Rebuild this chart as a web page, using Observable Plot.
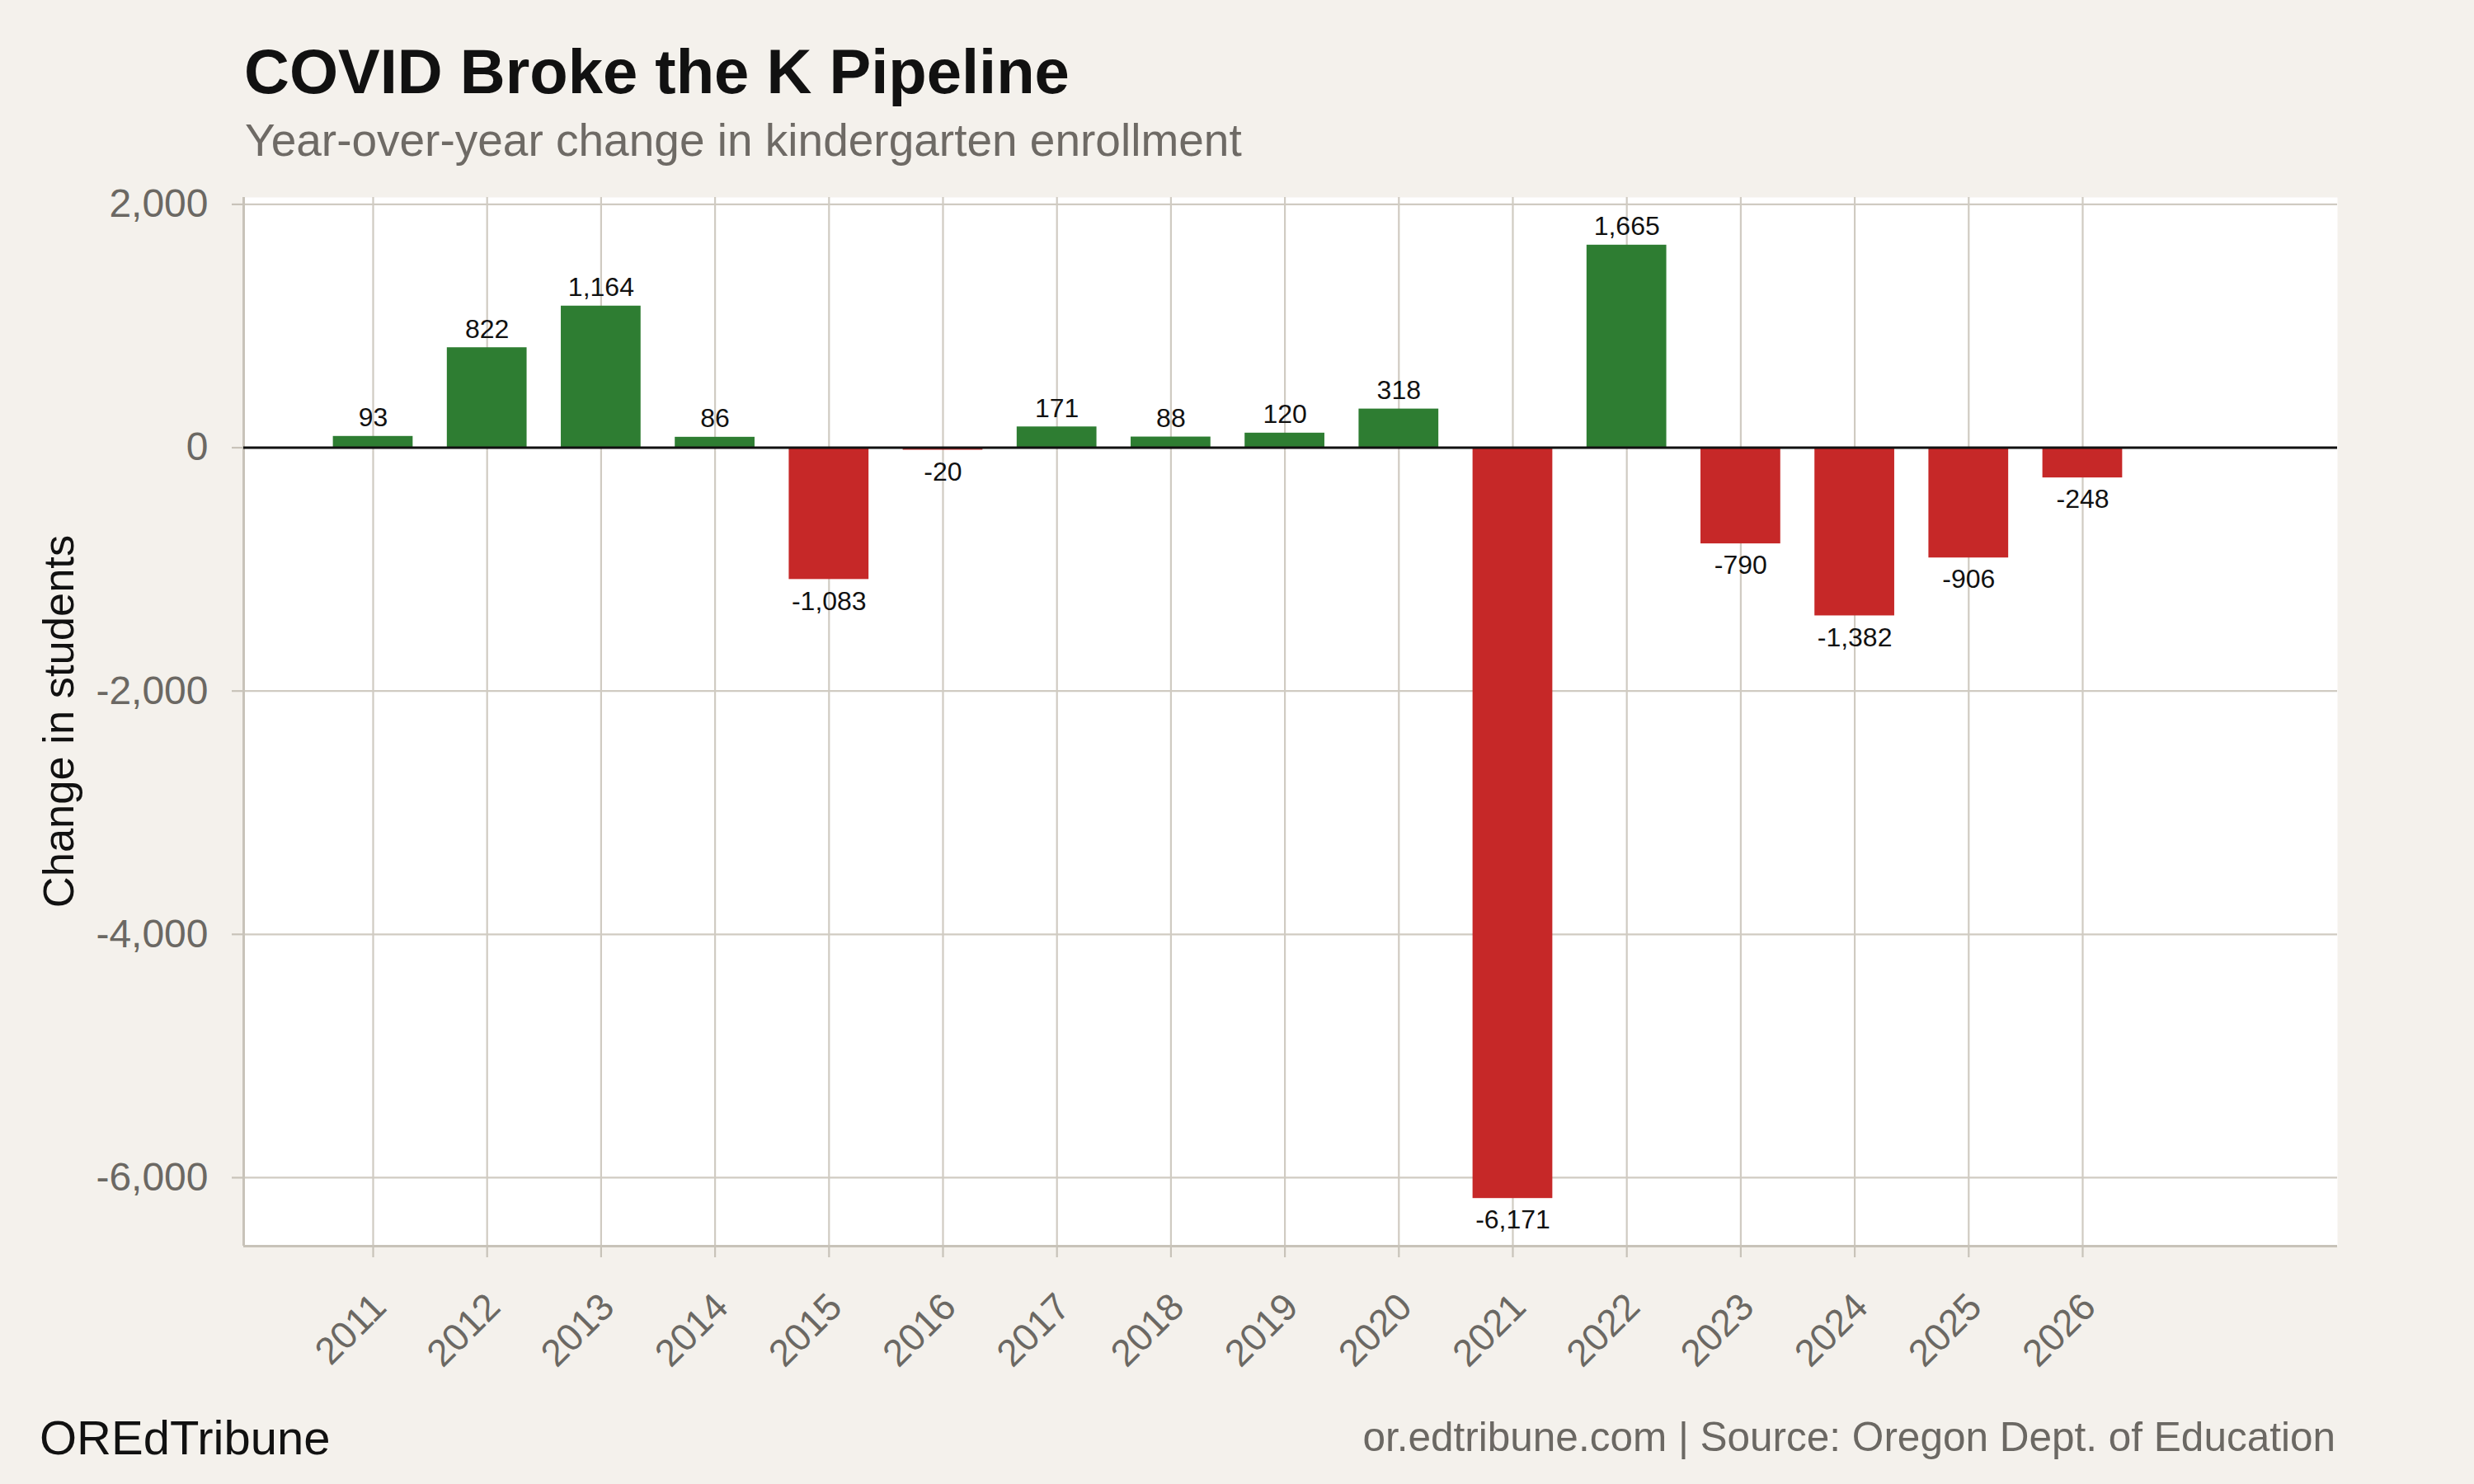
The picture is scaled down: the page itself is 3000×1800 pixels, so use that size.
<!DOCTYPE html>
<html>
<head>
<meta charset="utf-8">
<script src="https://cdn.jsdelivr.net/npm/d3@7"></script>
<script src="https://cdn.jsdelivr.net/npm/@observablehq/plot@0.6"></script>
<style>
  html, body { margin: 0; padding: 0; background: #f4f1ec; }
  #wrap { position: relative; width: 3000px; height: 1800px; background: #f4f1ec; font-family: "Liberation Sans", Arial, Helvetica, sans-serif; overflow: hidden; }
  .abs { position: absolute; white-space: nowrap; line-height: 1; }
  #title { left: 296px; top: 49px; font-size: 76px; font-weight: bold; color: #111111; }
  #subtitle { left: 297px; top: 143px; font-size: 55px; color: #6e6a65; }
  #ytitle { left: 71px; top: 875px; font-size: 52.5px; color: #111111; transform: translate(-50%, -50%) rotate(-90deg); }
  #brand { left: 48px; top: 1715px; font-size: 58px; color: #111111; }
  #source { right: 168px; top: 1718px; font-size: 49.5px; color: #6b6863; }
  #chart { position: absolute; left: 0; top: 200px; }
</style>
</head>
<body>
<div id="wrap">
  <div class="abs" id="title">COVID Broke the K Pipeline</div>
  <div class="abs" id="subtitle">Year-over-year change in kindergarten enrollment</div>
  <div class="abs" id="ytitle">Change in students</div>
  <div id="chart"></div>
  <div class="abs" id="brand">OREdTribune</div>
  <div class="abs" id="source">or.edtribune.com | Source: Oregon Dept. of Education</div>
</div>
<script>
// ---- data ----
const years = [2011, 2012, 2013, 2014, 2015, 2016, 2017, 2018, 2019, 2020, 2021, 2022, 2023, 2024, 2025, 2026];
const changes = [93, 822, 1164, 86, -1083, -20, 171, 88, 120, 318, -6171, 1665, -790, -1382, -906, -248];
const yTicks = [-6000, -4000, -2000, 0, 2000];

// ---- styles ----
const GREEN = "#2e7d32";
const RED = "#c62828";
const GRID = "#d0cbc2";
const AXIS = "#c8c3b9";
const TICKTEXT = "#6b6863";

const data = years.map((year, i) => ({year, value: changes[i], sign: changes[i] >= 0 ? "gain" : "loss"}));
const fmt = v => v.toLocaleString("en-US");

const vmin = d3.min(changes), vmax = d3.max(changes);
const pad = (vmax - vmin) * 0.05;
const yDomain = [vmin - pad, vmax + pad];
const xDomain = [2009.864, 2028.236];

const chart = Plot.plot({
  width: 3000,
  height: 1500,
  marginTop: 39,
  marginBottom: 189,
  marginLeft: 295,
  marginRight: 166,
  style: {fontFamily: "'Liberation Sans', Arial, Helvetica, sans-serif", background: "transparent"},
  x: {type: "linear", domain: xDomain},
  y: {domain: yDomain},
  color: {domain: ["gain", "loss"], range: [GREEN, RED]},
  marks: [
    Plot.frame({fill: "white", stroke: "none"}),
    Plot.gridX({ticks: years, stroke: GRID, strokeOpacity: 1, strokeWidth: 2.2}),
    Plot.gridY({ticks: yTicks, stroke: GRID, strokeOpacity: 1, strokeWidth: 2.2}),
    Plot.ruleX([xDomain[0]], {stroke: AXIS, strokeWidth: 3}),
    Plot.ruleY([yDomain[0]], {stroke: AXIS, strokeWidth: 3}),
    Plot.axisY({ticks: yTicks, tickFormat: fmt, tickSize: 14, tickPadding: 29, fontSize: 48, fill: TICKTEXT, stroke: AXIS, strokeWidth: 2.2, label: null}),
    Plot.axisX({ticks: years, tickFormat: () => "", tickSize: 14, stroke: AXIS, strokeWidth: 2.2, label: null}),
    Plot.axisX({ticks: years, tickFormat: d => String(d), tickSize: 0, tickPadding: 66, tickRotate: -45, fontSize: 46, fill: TICKTEXT, label: null, dx: 8}),
    Plot.rect(data, {x1: d => d.year - 0.35, x2: d => d.year + 0.35, y1: 0, y2: "value", fill: "sign"}),
    Plot.ruleY([0], {stroke: "#111111", strokeWidth: 3}),
    Plot.text(data.filter(d => d.value >= 0), {x: "year", y: "value", text: d => fmt(d.value), lineAnchor: "bottom", dy: -12, fontSize: 32, fill: "#111111"}),
    Plot.text(data.filter(d => d.value < 0), {x: "year", y: "value", text: d => fmt(d.value), lineAnchor: "top", dy: 14, fontSize: 32, fill: "#111111"})
  ]
});
document.getElementById("chart").appendChild(chart);
</script>
</body>
</html>
